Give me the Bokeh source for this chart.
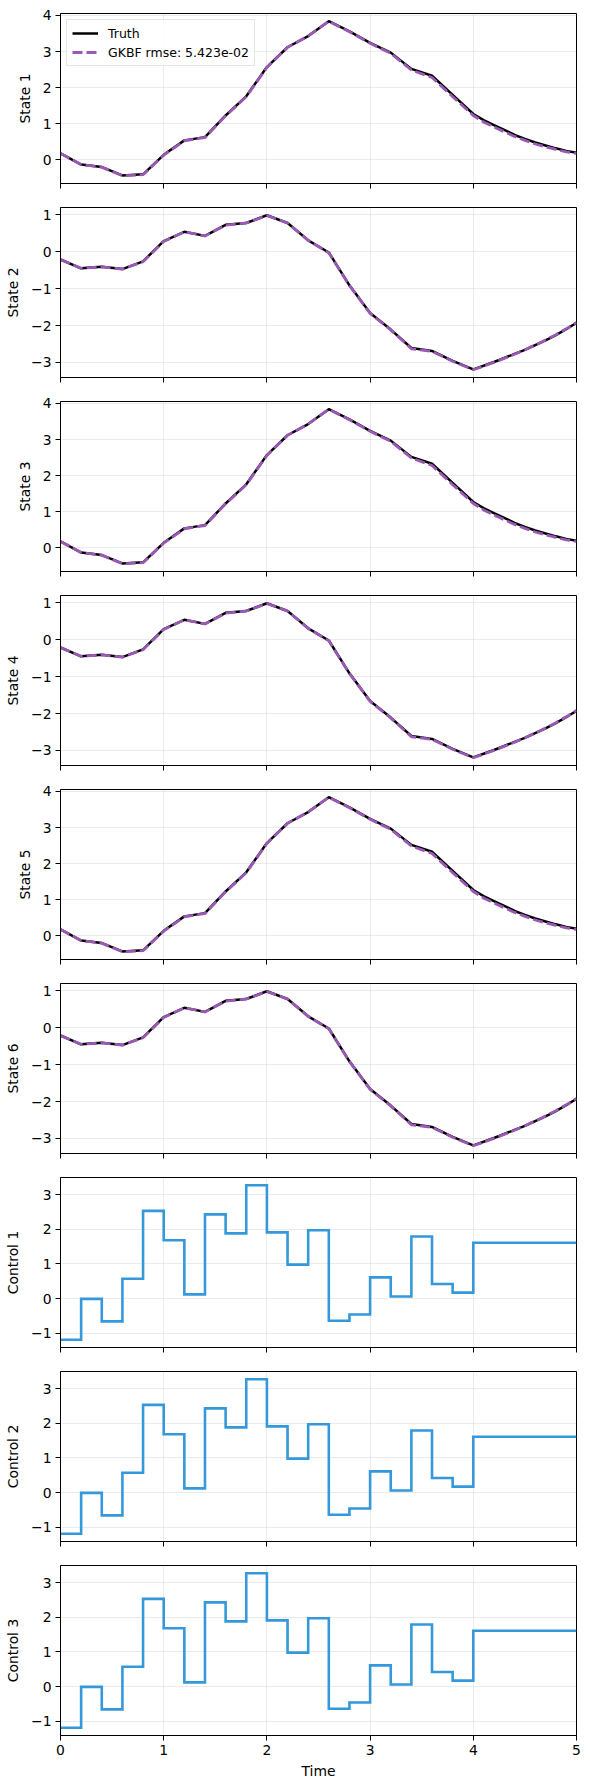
from bokeh.plotting import figure
from bokeh.layouts import column
from bokeh.models import Range1d, FixedTicker, Legend, LegendItem, CustomJSTickFormatter
from bokeh.embed import file_html
from bokeh.resources import INLINE
import math

# ---------------- data ----------------
t_state = [0.0, 0.2, 0.4, 0.6, 0.8, 1.0, 1.2, 1.4, 1.6, 1.8, 2.0, 2.2, 2.4, 2.6, 2.8,
           3.0, 3.2, 3.4, 3.6, 3.8, 4.0, 4.1, 4.2, 4.3, 4.4, 4.5, 4.6, 4.7, 4.8, 4.9, 5.0]

state_a_truth = [0.18, -0.13, -0.20, -0.43, -0.40, 0.14, 0.54, 0.63, 1.23, 1.76, 2.57, 3.12,
                 3.43, 3.84, 3.56, 3.24, 2.97, 2.52, 2.33, 1.80, 1.27, 1.10, 0.96, 0.83, 0.69,
                 0.58, 0.48, 0.40, 0.32, 0.25, 0.20]
state_a_gkbf = [0.18, -0.13, -0.20, -0.44, -0.41, 0.13, 0.53, 0.62, 1.22, 1.75, 2.56, 3.12,
                3.43, 3.84, 3.55, 3.23, 2.95, 2.49, 2.28, 1.75, 1.23, 1.05, 0.91, 0.78, 0.65,
                0.54, 0.44, 0.36, 0.29, 0.22, 0.18]

state_b_truth = [-0.21, -0.45, -0.41, -0.47, -0.26, 0.29, 0.54, 0.43, 0.73, 0.78, 0.99, 0.78,
                 0.31, -0.02, -0.91, -1.66, -2.11, -2.61, -2.69, -2.96, -3.19, -3.09, -2.99,
                 -2.88, -2.77, -2.66, -2.53, -2.40, -2.26, -2.10, -1.93]
state_b_gkbf = [-0.21, -0.45, -0.41, -0.47, -0.27, 0.28, 0.54, 0.43, 0.72, 0.78, 0.98, 0.78,
                0.31, -0.03, -0.92, -1.67, -2.12, -2.63, -2.70, -2.97, -3.20, -3.10, -3.00,
                -2.89, -2.78, -2.66, -2.53, -2.39, -2.25, -2.09, -1.92]

t_control = [0.0, 0.2, 0.4, 0.6, 0.8, 1.0, 1.2, 1.4, 1.6, 1.8, 2.0, 2.2, 2.4, 2.6, 2.8,
             3.0, 3.2, 3.4, 3.6, 3.8, 4.0, 5.0]
control_vals = [-1.19, -0.01, -0.66, 0.57, 2.53, 1.68, 0.12, 2.43, 1.88, 3.27, 1.91, 0.98,
                1.97, -0.64, -0.46, 0.61, 0.06, 1.79, 0.42, 0.17, 1.61, 1.61]

state_labels = ["State 1", "State 2", "State 3", "State 4", "State 5", "State 6"]
control_labels = ["Control 1", "Control 2", "Control 3"]
x_ticks = [0, 1, 2, 3, 4, 5]
legend_truth = "Truth"
legend_gkbf = "GKBF rmse: 5.423e-02"

# ---------------- style ----------------
FONT = "DejaVu Sans"
TRUTH_COLOR = "black"
GKBF_COLOR = "#9b59b6"
CONTROL_COLOR = "#3498db"

minus_fmt = CustomJSTickFormatter(code="return String(Math.round(tick)).replace('-', '\u2212');")
blank_fmt = CustomJSTickFormatter(code="return '';")


def padded(vals):
    lo, hi = min(vals), max(vals)
    span = hi - lo
    return lo - 0.05 * span, hi + 0.05 * span


def make_fig(ylabel, yvals, first, last):
    ymin, ymax = padded(yvals)
    p = figure(frame_width=516, frame_height=170,
               x_range=Range1d(0, 5), y_range=Range1d(ymin, ymax),
               output_backend="svg", toolbar_location=None,
               min_border_left=60, min_border_right=8,
               min_border_top=13 if first else 5,
               min_border_bottom=46 if last else 19,
               background_fill_color="white", border_fill_color="white")
    p.outline_line_color = "black"
    p.outline_line_width = 1
    p.outline_line_alpha = 1

    p.xaxis.ticker = FixedTicker(ticks=x_ticks)
    p.yaxis.ticker = FixedTicker(ticks=list(range(math.ceil(ymin), math.floor(ymax) + 1)))
    p.yaxis.formatter = minus_fmt
    p.xaxis.formatter = minus_fmt if last else blank_fmt
    for ax in (p.xaxis, p.yaxis):
        ax.axis_line_color = "black"
        ax.axis_line_width = 1
        ax.major_tick_out = 5
        ax.major_tick_in = 0
        ax.major_tick_line_color = "black"
        ax.major_tick_line_width = 1
        ax.minor_tick_line_color = None
        ax.major_label_text_font = FONT
        ax.major_label_text_font_size = "13.9px"
        ax.major_label_text_color = "black"
        ax.major_label_standoff = 4
        ax.axis_label_text_font = FONT
        ax.axis_label_text_font_size = "13.9px"
        ax.axis_label_text_font_style = "normal"
        ax.axis_label_text_color = "black"
        ax.axis_label_standoff = 7
    p.yaxis.axis_label = ylabel
    if last:
        p.xaxis.axis_label = "Time"
        p.xaxis.axis_label_standoff = 5
    else:
        p.xaxis.major_label_standoff = 0
    p.grid.grid_line_color = "#b0b0b0"
    p.grid.grid_line_alpha = 0.33
    p.grid.grid_line_width = 0.8
    return p


figs = []
for i, lab in enumerate(state_labels):
    truth = state_a_truth if i % 2 == 0 else state_b_truth
    gkbf = state_a_gkbf if i % 2 == 0 else state_b_gkbf
    p = make_fig(lab, truth + gkbf, i == 0, False)
    r1 = p.line(t_state, truth, line_color=TRUTH_COLOR, line_width=2.5, line_join="round")
    r2 = p.line(t_state, gkbf, line_color=GKBF_COLOR, line_width=2.8, line_dash="10 4")
    if i == 0:
        leg = Legend(items=[LegendItem(label=legend_truth, renderers=[r1]),
                            LegendItem(label=legend_gkbf, renderers=[r2])],
                     location="top_left")
        leg.margin = 6
        leg.padding = 5
        leg.spacing = 3
        leg.label_text_font = FONT
        leg.label_text_font_size = "12.5px"
        leg.label_text_color = "black"
        leg.label_height = 16
        leg.glyph_height = 16
        leg.glyph_width = 26
        leg.label_standoff = 10
        leg.border_line_color = "#cccccc"
        leg.border_line_width = 1
        leg.background_fill_alpha = 0.8
        p.add_layout(leg, "center")
    figs.append(p)

for j, lab in enumerate(control_labels):
    last = j == len(control_labels) - 1
    p = make_fig(lab, control_vals, False, last)
    p.step(t_control, control_vals, mode="after", line_color=CONTROL_COLOR,
           line_width=2.6, line_join="miter")
    figs.append(p)

layout = column(*figs, spacing=0)
open("out.html", "w").write(file_html(layout, INLINE))
